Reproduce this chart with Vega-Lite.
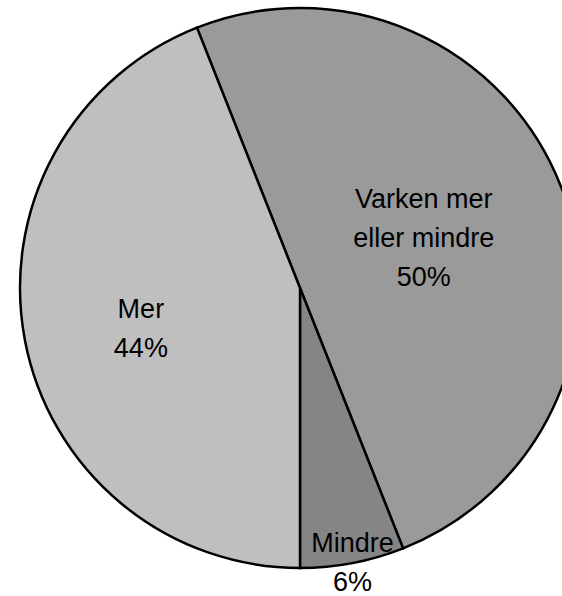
{
  "$schema": "https://vega.github.io/schema/vega-lite/v6.json",
  "width": 524,
  "height": 576,
  "autosize": {"type": "none"},
  "padding": {"left": 38, "top": 0, "right": 0, "bottom": 20},
  "background": "white",
  "config": {"view": {"stroke": null}},
  "data": {
    "values": [
      {"kategori": "Varken mer eller mindre", "andel": 50, "rekkefolge": 1, "etikett": "Varken mer\neller mindre\n50%"},
      {"kategori": "Mindre", "andel": 6, "rekkefolge": 2, "etikett": "Mindre\n6%"},
      {"kategori": "Mer", "andel": 44, "rekkefolge": 3, "etikett": "Mer\n44%"}
    ]
  },
  "encoding": {
    "theta": {"field": "andel", "type": "quantitative", "stack": true, "scale": {"range": [-0.37699, 5.90619]}},
    "order": {"field": "rekkefolge", "type": "quantitative"},
    "radius": {"field": "andel", "type": "quantitative", "scale": {"type": "linear", "domain": [6, 44, 50], "range": [280, 162, 133], "zero": false}}
  },
  "layer": [
    {
      "mark": {"type": "arc", "radius": 280, "stroke": "black", "strokeWidth": 2.5},
      "encoding": {
        "radius": null,
        "color": {
          "field": "kategori",
          "type": "nominal",
          "legend": null,
          "scale": {"domain": ["Varken mer eller mindre", "Mindre", "Mer"], "range": ["#9a9a9a", "#858585", "#bfbfbf"]}
        }
      }
    },
    {
      "mark": {"type": "text", "font": "Liberation Sans", "fontSize": 27, "lineHeight": 39, "lineBreak": "\n", "color": "black", "align": "center", "baseline": "middle", "dy": -39},
      "encoding": {
        "text": {"condition": {"test": "datum.kategori === 'Varken mer eller mindre'", "field": "etikett"}, "value": ""}
      }
    },
    {
      "mark": {"type": "text", "font": "Liberation Sans", "fontSize": 27, "lineHeight": 39, "lineBreak": "\n", "color": "black", "align": "center", "baseline": "middle", "dy": -8},
      "encoding": {
        "text": {"condition": {"test": "datum.kategori === 'Mer'", "field": "etikett"}, "value": ""}
      }
    },
    {
      "mark": {"type": "text", "font": "Liberation Sans", "fontSize": 27, "lineHeight": 39, "lineBreak": "\n", "color": "black", "align": "center", "baseline": "middle", "dy": -19},
      "encoding": {
        "text": {"condition": {"test": "datum.kategori === 'Mindre'", "field": "etikett"}, "value": ""}
      }
    }
  ]
}
